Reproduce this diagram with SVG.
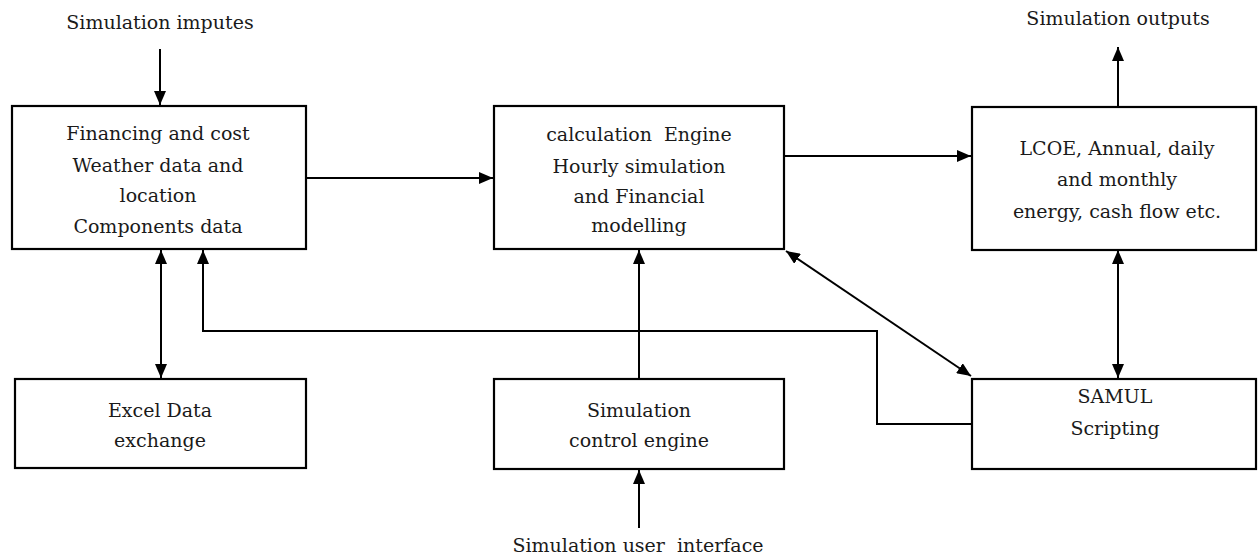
<svg xmlns="http://www.w3.org/2000/svg" width="1259" height="558" viewBox="0 0 1259 558">
<style>
.box{fill:#fff;stroke:#000;stroke-width:2.2}
.t{font-family:'DejaVu Serif',serif;font-size:19px;fill:#1a1a1a;text-anchor:middle}
.c{fill:none;stroke:#000;stroke-width:2}
</style>
<defs>
<marker id="ah" markerUnits="userSpaceOnUse" markerWidth="14" markerHeight="12" refX="14" refY="6" orient="auto-start-reverse">
<path d="M0,0 L14,6 L0,12 Z" fill="#000"/>
</marker>
</defs>
<rect width="1259" height="558" fill="#fff"/>
<g id="connectors">
<line class="c" x1="160" y1="49" x2="160" y2="105" marker-end="url(#ah)"/>
<line class="c" x1="306" y1="178" x2="493" y2="178" marker-end="url(#ah)"/>
<line class="c" x1="784" y1="156" x2="971" y2="156" marker-end="url(#ah)"/>
<line class="c" x1="1118" y1="106" x2="1118" y2="47" marker-end="url(#ah)"/>
<line class="c" x1="161" y1="250" x2="161" y2="378" marker-start="url(#ah)" marker-end="url(#ah)"/>
<polyline class="c" points="971,424 877,424 877,331 203,331 203,250" marker-end="url(#ah)"/>
<line class="c" x1="639" y1="378" x2="639" y2="250" marker-end="url(#ah)"/>
<line class="c" x1="786" y1="251" x2="971" y2="376" marker-start="url(#ah)" marker-end="url(#ah)"/>
<line class="c" x1="1118" y1="250" x2="1118" y2="378" marker-start="url(#ah)" marker-end="url(#ah)"/>
<line class="c" x1="639" y1="528" x2="639" y2="470" marker-end="url(#ah)"/>
</g>
<g id="label-inputs"><text class="t" x="160" y="29">Simulation imputes</text></g>
<g id="label-outputs"><text class="t" x="1118" y="25">Simulation outputs</text></g>
<g id="label-ui"><text class="t" x="638" y="552" xml:space="preserve">Simulation user  interface</text></g>
<g id="inputs">
<rect class="box" x="12" y="106" width="294" height="143"/>
<text class="t" x="158" y="140">Financing and cost</text>
<text class="t" x="158" y="172">Weather data and</text>
<text class="t" x="158" y="202">location</text>
<text class="t" x="158" y="233">Components data</text>
</g>
<g id="calc">
<rect class="box" x="494" y="106" width="290" height="143"/>
<text class="t" x="639" y="141" xml:space="preserve">calculation  Engine</text>
<text class="t" x="639" y="173">Hourly simulation</text>
<text class="t" x="639" y="203">and Financial</text>
<text class="t" x="639" y="232">modelling</text>
</g>
<g id="results">
<rect class="box" x="972" y="107" width="284" height="143"/>
<text class="t" x="1117" y="155">LCOE, Annual, daily</text>
<text class="t" x="1117" y="186">and monthly</text>
<text class="t" x="1117" y="218">energy, cash flow etc.</text>
</g>
<g id="excel">
<rect class="box" x="15" y="379" width="291" height="89"/>
<text class="t" x="160" y="417">Excel Data</text>
<text class="t" x="160" y="447">exchange</text>
</g>
<g id="control">
<rect class="box" x="494" y="379" width="290" height="90"/>
<text class="t" x="639" y="417">Simulation</text>
<text class="t" x="639" y="447">control engine</text>
</g>
<g id="samul">
<rect class="box" x="972" y="379" width="284" height="90"/>
<text class="t" x="1115" y="403">SAMUL</text>
<text class="t" x="1115" y="435">Scripting</text>
</g>
</svg>
